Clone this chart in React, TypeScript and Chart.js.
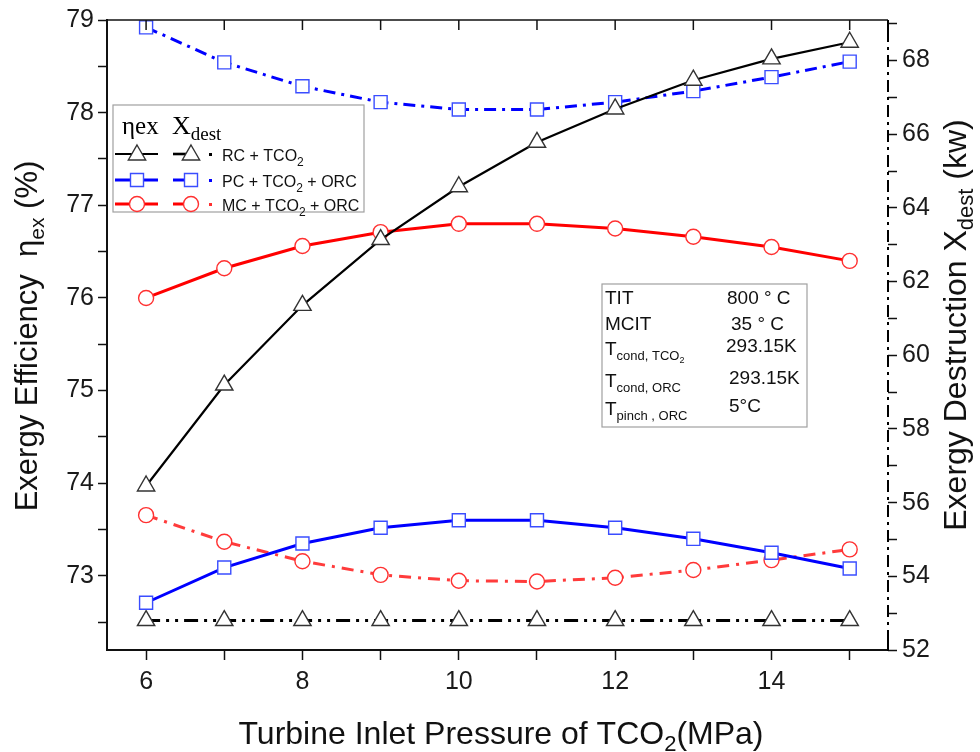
import React, { useEffect, useRef } from 'react';
import { Chart, registerables } from 'chart.js';

Chart.register(...registerables);

// ---------------- data ----------------
const pressure = [6, 7, 8, 9, 10, 11, 12, 13, 14, 15];
const etaRC = [73.97, 75.06, 75.92, 76.63, 77.2, 77.68, 78.04, 78.35, 78.58, 78.76];
const etaPC = [72.71, 73.09, 73.35, 73.52, 73.6, 73.6, 73.52, 73.4, 73.25, 73.08];
const etaMC = [76.0, 76.32, 76.56, 76.71, 76.8, 76.8, 76.75, 76.66, 76.55, 76.4];
const xdestRC = [52.8, 52.8, 52.8, 52.8, 52.8, 52.8, 52.8, 52.8, 52.8, 52.8];
const xdestPC = [68.9, 67.95, 67.3, 66.87, 66.67, 66.67, 66.87, 67.17, 67.55, 67.97];
const xdestMC = [55.66, 54.94, 54.41, 54.04, 53.88, 53.86, 53.96, 54.17, 54.44, 54.73];

const legendNames = ['RC + TCO', 'PC + TCO', 'MC + TCO'];
const legendSuffix = ['', ' + ORC', ' + ORC'];
const infoLabels = [
  { main: 'TIT', sub: '' },
  { main: 'MCIT', sub: '' },
  { main: 'T', sub: 'cond, TCO', sub2: '2' },
  { main: 'T', sub: 'cond, ORC' },
  { main: 'T', sub: 'pinch , ORC' },
];
const infoValues = ['800 ° C', '35 ° C', '293.15K', '293.15K', '5°C'];

const SANS = '"Liberation Sans", Arial, sans-serif';
const SERIF = '"Liberation Serif", "Times New Roman", serif';

const BLACK = '#000000';
const BLUE = '#0000ff';
const RED = '#ff0000';
const BLUE_MK = '#3a4dff';
const RED_MK = '#ff3030';
const TRI_MK = '#333333';

type Seg = { t: string; font: string; dy?: number };

function segWidth(ctx: CanvasRenderingContext2D, segs: Seg[]) {
  let w = 0;
  for (const s of segs) {
    ctx.font = s.font;
    w += ctx.measureText(s.t).width;
  }
  return w;
}
function drawSegs(ctx: CanvasRenderingContext2D, segs: Seg[], x: number, y: number) {
  let cx = x;
  ctx.textAlign = 'left';
  ctx.textBaseline = 'alphabetic';
  for (const s of segs) {
    ctx.font = s.font;
    ctx.fillText(s.t, cx, y + (s.dy || 0));
    cx += ctx.measureText(s.t).width;
  }
}

function drawTri(ctx: CanvasRenderingContext2D, x: number, y: number, r: number) {
  ctx.beginPath();
  ctx.moveTo(x, y - r);
  ctx.lineTo(x + 0.866 * r, y + 0.5 * r);
  ctx.lineTo(x - 0.866 * r, y + 0.5 * r);
  ctx.closePath();
  ctx.fillStyle = '#fff';
  ctx.fill();
  ctx.strokeStyle = TRI_MK;
  ctx.lineWidth = 1.4;
  ctx.stroke();
}
function drawSq(ctx: CanvasRenderingContext2D, x: number, y: number, h: number) {
  ctx.beginPath();
  ctx.rect(x - h, y - h, 2 * h, 2 * h);
  ctx.fillStyle = '#fff';
  ctx.fill();
  ctx.strokeStyle = BLUE_MK;
  ctx.lineWidth = 1.4;
  ctx.stroke();
}
function drawCirc(ctx: CanvasRenderingContext2D, x: number, y: number, r: number) {
  ctx.beginPath();
  ctx.arc(x, y, r, 0, Math.PI * 2);
  ctx.fillStyle = '#fff';
  ctx.fill();
  ctx.strokeStyle = RED_MK;
  ctx.lineWidth = 1.4;
  ctx.stroke();
}
function hline(ctx: CanvasRenderingContext2D, x1: number, x2: number, y: number, color: string, w: number) {
  ctx.beginPath();
  ctx.moveTo(x1, y);
  ctx.lineTo(x2, y);
  ctx.strokeStyle = color;
  ctx.lineWidth = w;
  ctx.stroke();
}

const decorPlugin = {
  id: 'decor',
  beforeDraw(chart: any) {
    const ctx = chart.ctx;
    ctx.save();
    ctx.fillStyle = '#fff';
    ctx.fillRect(0, 0, chart.width, chart.height);
    ctx.restore();
  },
  afterDraw(chart: any) {
    const ctx: CanvasRenderingContext2D = chart.ctx;
    const { left, right, top, bottom } = chart.chartArea;
    const xs = chart.scales.x;
    ctx.save();

    // top frame + inward ticks
    hline(ctx, left, right, top, '#111', 1.5);
    for (const t of xs.ticks) {
      const px = xs.getPixelForValue(t.value);
      ctx.beginPath();
      ctx.moveTo(px, top);
      ctx.lineTo(px, top + 10);
      ctx.strokeStyle = '#111';
      ctx.lineWidth = 1.5;
      ctx.stroke();
    }

    // right axis: dash-dot line with solid ends
    ctx.beginPath();
    ctx.setLineDash([12, 5, 3, 5]);
    ctx.moveTo(right, top + 10);
    ctx.lineTo(right, bottom - 10);
    ctx.strokeStyle = '#000';
    ctx.lineWidth = 2;
    ctx.stroke();
    ctx.setLineDash([]);
    ctx.beginPath();
    ctx.moveTo(right, top);
    ctx.lineTo(right, top + 10);
    ctx.moveTo(right, bottom - 10);
    ctx.lineTo(right, bottom + 1);
    ctx.stroke();

    // ---- legend box ----
    const lx = 113, ly = 105, lw = 251, lh = 107;
    ctx.fillStyle = '#fff';
    ctx.fillRect(lx, ly, lw, lh);
    ctx.strokeStyle = '#a0a0a0';
    ctx.lineWidth = 1.2;
    ctx.strokeRect(lx, ly, lw, lh);
    ctx.fillStyle = '#000';
    drawSegs(ctx, [{ t: 'ηex', font: `25px ${SERIF}` }], 122, 134);
    drawSegs(ctx, [
      { t: 'X', font: `26px ${SERIF}` },
      { t: 'dest', font: `19px ${SERIF}`, dy: 6 },
    ], 172, 134);

    const rows = [154, 180, 204];
    const colors = [BLACK, BLUE, RED];
    const dotColors = ['#000', BLUE, RED_MK];
    rows.forEach((ry, i) => {
      hline(ctx, 115, 158, ry, colors[i], i === 0 ? 2.2 : 3);
      hline(ctx, 173, 186, ry, colors[i], i === 0 ? 2.6 : 3);
      if (i === 0) { drawTri(ctx, 137, ry + 1, 10); drawTri(ctx, 191, ry + 1, 10); }
      if (i === 1) { drawSq(ctx, 137, ry, 6.5); drawSq(ctx, 191, ry, 6.5); }
      if (i === 2) { drawCirc(ctx, 137, ry, 7.5); drawCirc(ctx, 191, ry, 7.5); }
      ctx.fillStyle = dotColors[i];
      ctx.fillRect(209, ry - 1, 3, 3);
      ctx.fillStyle = '#111';
      drawSegs(ctx, [
        { t: legendNames[i], font: `16px ${SANS}` },
        { t: '2', font: `12px ${SANS}`, dy: 5 },
        { t: legendSuffix[i], font: `16px ${SANS}` },
      ], 222, ry + 7);
    });

    // ---- info box ----
    const bx = 602, by = 284, bw = 205, bh = 143;
    ctx.fillStyle = '#fff';
    ctx.fillRect(bx, by, bw, bh);
    ctx.strokeStyle = '#a0a0a0';
    ctx.lineWidth = 1.2;
    ctx.strokeRect(bx, by, bw, bh);
    const labBase = [304, 330, 355, 387, 415];
    const valBase = [304, 330, 352, 384, 412];
    const valX = [727, 731, 726, 729, 729];
    ctx.fillStyle = '#111';
    infoLabels.forEach((l: any, i) => {
      const segs: Seg[] = [{ t: l.main, font: `19px ${SANS}` }];
      if (l.sub) segs.push({ t: l.sub, font: `13px ${SANS}`, dy: 5 });
      if (l.sub2) segs.push({ t: l.sub2, font: `9px ${SANS}`, dy: 8 });
      drawSegs(ctx, segs, 605, labBase[i]);
      drawSegs(ctx, [{ t: infoValues[i], font: `19px ${SANS}` }], valX[i], valBase[i]);
    });

    // ---- axis titles ----
    ctx.fillStyle = '#111';
    // left
    const lseg: Seg[] = [
      { t: 'Exergy Efficiency  η', font: `31px ${SANS}` },
      { t: 'ex', font: `21px ${SANS}`, dy: 7 },
      { t: ' (%)', font: `31px ${SANS}` },
    ];
    ctx.save();
    ctx.translate(37, 336);
    ctx.rotate(-Math.PI / 2);
    drawSegs(ctx, lseg, -segWidth(ctx, lseg) / 2, 0);
    ctx.restore();
    // right
    const rseg: Seg[] = [
      { t: 'Exergy Destruction X', font: `32px ${SANS}` },
      { t: 'dest', font: `22px ${SANS}`, dy: 7 },
      { t: ' (kw)', font: `32px ${SANS}` },
    ];
    ctx.save();
    ctx.translate(966, 325);
    ctx.rotate(-Math.PI / 2);
    drawSegs(ctx, rseg, -segWidth(ctx, rseg) / 2, 0);
    ctx.restore();
    // bottom
    const bseg: Seg[] = [
      { t: 'Turbine Inlet Pressure of TCO', font: `32px ${SANS}` },
      { t: '2', font: `22px ${SANS}`, dy: 7 },
      { t: '(MPa)', font: `32px ${SANS}` },
    ];
    drawSegs(ctx, bseg, 501 - segWidth(ctx, bseg) / 2, 744);

    ctx.restore();
  },
};

// explicit tick positions: every `step` between the axis limits
const stepTicks = (step: number) => (scale: any) => {
  const lo = Math.ceil(scale.min / step - 1e-9);
  const hi = Math.floor(scale.max / step + 1e-9);
  const out: any[] = [];
  for (let k = lo; k <= hi; k++) out.push({ value: Math.round(k * step * 1000) / 1000 });
  scale.ticks = out;
};

function pts(ys: number[]) {
  return pressure.map((p, i) => ({ x: p, y: ys[i] }));
}

export default function App() {
  const ref = useRef<HTMLCanvasElement>(null);
  useEffect(() => {
    document.body.style.margin = '0';
    const tickFont = { family: SANS, size: 25 };
    const chart = new Chart(ref.current as HTMLCanvasElement, {
      type: 'line',
      data: {
        datasets: [
          {
            label: 'ηex RC + TCO2', data: pts(etaRC), yAxisID: 'y',
            borderColor: BLACK, borderWidth: 2.2, pointStyle: 'triangle', pointRadius: 10,
            pointBackgroundColor: '#fff', pointBorderColor: TRI_MK, pointBorderWidth: 1.4, clip: false,
          },
          {
            label: 'ηex PC + TCO2 + ORC', data: pts(etaPC), yAxisID: 'y',
            borderColor: BLUE, borderWidth: 3, pointStyle: 'rect', pointRadius: 9.2,
            pointBackgroundColor: '#fff', pointBorderColor: BLUE_MK, pointBorderWidth: 1.4, clip: false,
          },
          {
            label: 'ηex MC + TCO2 + ORC', data: pts(etaMC), yAxisID: 'y',
            borderColor: RED, borderWidth: 3, pointStyle: 'circle', pointRadius: 7.5,
            pointBackgroundColor: '#fff', pointBorderColor: RED_MK, pointBorderWidth: 1.4, clip: false,
          },
          {
            label: 'Xdest RC + TCO2', data: pts(xdestRC), yAxisID: 'y1',
            borderColor: BLACK, borderWidth: 3, borderDash: [14, 6, 3, 6, 3, 6], pointStyle: 'triangle', pointRadius: 10,
            pointBackgroundColor: '#fff', pointBorderColor: TRI_MK, pointBorderWidth: 1.4, clip: false,
          },
          {
            label: 'Xdest PC + TCO2 + ORC', data: pts(xdestPC), yAxisID: 'y1',
            borderColor: BLUE, borderWidth: 3, borderDash: [12, 6, 3, 6], pointStyle: 'rect', pointRadius: 9.2,
            pointBackgroundColor: '#fff', pointBorderColor: BLUE_MK, pointBorderWidth: 1.4, clip: false,
          },
          {
            label: 'Xdest MC + TCO2 + ORC', data: pts(xdestMC), yAxisID: 'y1',
            borderColor: '#ff3b3b', borderWidth: 3, borderDash: [12, 7, 3, 7], pointStyle: 'circle', pointRadius: 7.5,
            pointBackgroundColor: '#fff', pointBorderColor: RED_MK, pointBorderWidth: 1.4, clip: false,
          },
        ],
      },
      options: {
        responsive: false,
        animation: false,
        devicePixelRatio: 1,
        layout: { padding: { top: 19, left: 0, right: 0, bottom: 0 } },
        plugins: { legend: { display: false }, tooltip: { enabled: false } },
        scales: {
          x: {
            type: 'linear', min: 5.5, max: 15.49,
            afterBuildTicks: stepTicks(1),
            afterFit: (s: any) => { s.height = 102; },
            ticks: {
              autoSkip: false, maxRotation: 0, padding: 7, color: '#1a1a1a', font: tickFont,
              callback: (v: any) => (Math.round(Number(v)) % 2 === 0 ? String(Math.round(Number(v))) : ''),
            },
            grid: { display: true, drawOnChartArea: false, drawTicks: true, tickLength: 10, tickWidth: 1.5, tickColor: '#111' },
            border: { display: true, color: '#111', width: 2 },
          },
          y: {
            type: 'linear', position: 'left', min: 72.2, max: 79,
            afterBuildTicks: stepTicks(0.5),
            afterFit: (s: any) => { s.width = 107; },
            ticks: {
              autoSkip: false, padding: 4, color: '#1a1a1a', font: tickFont,
              callback: (v: any) => (Math.abs(Number(v) - Math.round(Number(v))) < 1e-6 ? String(Math.round(Number(v))) : ''),
            },
            grid: { display: true, drawOnChartArea: false, drawTicks: true, tickLength: 9, tickWidth: 1.5, tickColor: '#111' },
            border: { display: true, color: '#111', width: 2 },
          },
          y1: {
            type: 'linear', position: 'right', min: 52, max: 69.1,
            afterBuildTicks: stepTicks(1),
            afterFit: (s: any) => { s.width = 92; },
            ticks: {
              autoSkip: false, padding: 5, color: '#1a1a1a', font: tickFont,
              callback: (v: any) => (Math.round(Number(v)) % 2 === 0 ? String(Math.round(Number(v))) : ''),
            },
            grid: { display: true, drawOnChartArea: false, drawTicks: true, tickLength: 9, tickWidth: 1.5, tickColor: '#111' },
            border: { display: false },
          },
        },
      },
      plugins: [decorPlugin],
    } as any);
    return () => chart.destroy();
  }, []);
  return (
    <div style={{ width: 980, height: 752, background: '#fff' }}>
      <canvas ref={ref} width={980} height={752} style={{ display: 'block' }} />
    </div>
  );
}
